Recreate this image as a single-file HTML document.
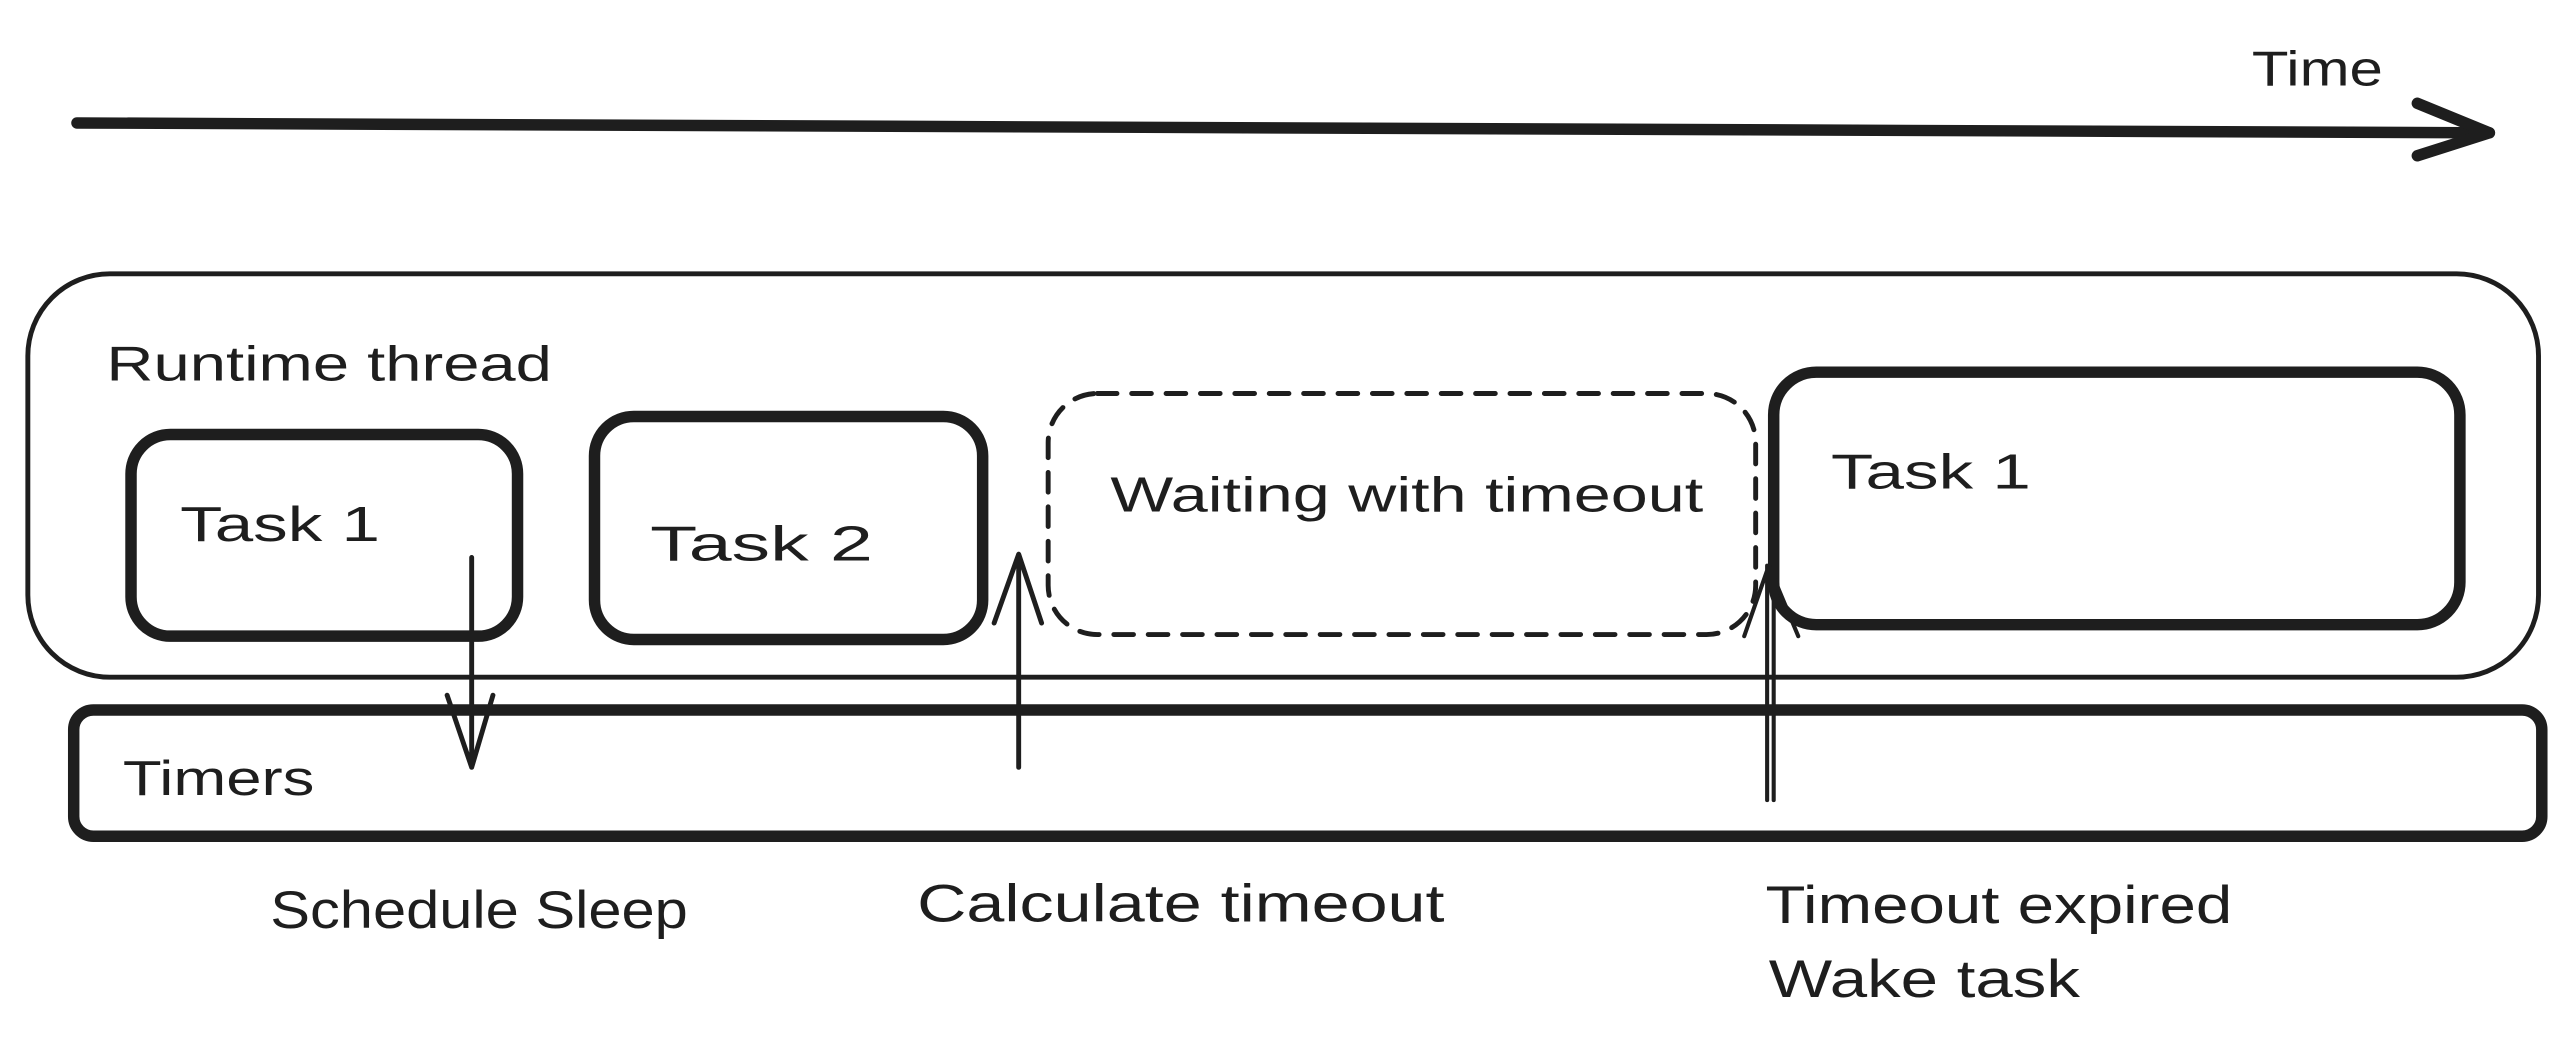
<!DOCTYPE html>
<html><head><meta charset="utf-8"><style>
html,body{margin:0;padding:0;background:#fff;}
svg{display:block}
text{font-family:"Liberation Sans",sans-serif;fill:#1e1e1e;}
</style></head><body>
<svg width="2568" height="1051" viewBox="0 0 1568 641" preserveAspectRatio="none" xmlns="http://www.w3.org/2000/svg">
<g fill="none" stroke="#1e1e1e" stroke-linecap="round" stroke-linejoin="round">
<path d="M47 75 L1520 81" stroke-width="7"/>
<path d="M1476 63 L1520 81 L1476 95" stroke-width="7"/>
<rect x="17" y="167" width="1533" height="246" rx="50" stroke-width="3"/>
<rect x="80" y="265" width="236" height="123" rx="24" stroke-width="7"/>
<rect x="363" y="254" width="237" height="136" rx="24" stroke-width="7"/>
<rect x="640" y="240" width="432" height="147" rx="30" stroke-width="3" stroke-dasharray="12 9"/>
<rect x="1083" y="227" width="419" height="154" rx="26" stroke-width="7"/>
<rect x="45" y="433" width="1507" height="77" rx="12" stroke-width="7"/>
<path d="M288 340 L288 468 M273 424 L288 468 L301 424" stroke-width="3"/>
<path d="M622 468 L622 338 M607 380 L622 338 L636 380" stroke-width="3"/>
<path d="M1079 488 L1079 345 M1083 488 L1083 345 M1065 388 L1080 345 L1098 388" stroke-width="2.5"/>
</g>
<g lengthAdjust="spacingAndGlyphs">
<text x="1375" y="52" font-size="30" textLength="80" lengthAdjust="spacingAndGlyphs">Time</text>
<text x="65" y="232" font-size="30" textLength="272" lengthAdjust="spacingAndGlyphs">Runtime thread</text>
<text x="110" y="330" font-size="30" textLength="122" lengthAdjust="spacingAndGlyphs">Task 1</text>
<text x="397" y="342" font-size="30" textLength="136" lengthAdjust="spacingAndGlyphs">Task 2</text>
<text x="678" y="312" font-size="30" textLength="362" lengthAdjust="spacingAndGlyphs">Waiting with timeout</text>
<text x="1118" y="298" font-size="30" textLength="122" lengthAdjust="spacingAndGlyphs">Task 1</text>
<text x="75" y="485" font-size="30" textLength="117" lengthAdjust="spacingAndGlyphs">Timers</text>
<text x="165" y="566" font-size="32" textLength="255" lengthAdjust="spacingAndGlyphs">Schedule Sleep</text>
<text x="560" y="562" font-size="32" textLength="322" lengthAdjust="spacingAndGlyphs">Calculate timeout</text>
<text x="1078" y="563" font-size="32" textLength="285" lengthAdjust="spacingAndGlyphs">Timeout expired</text>
<text x="1080" y="608" font-size="32" textLength="190" lengthAdjust="spacingAndGlyphs">Wake task</text>
</g>
</svg>
</body></html>
